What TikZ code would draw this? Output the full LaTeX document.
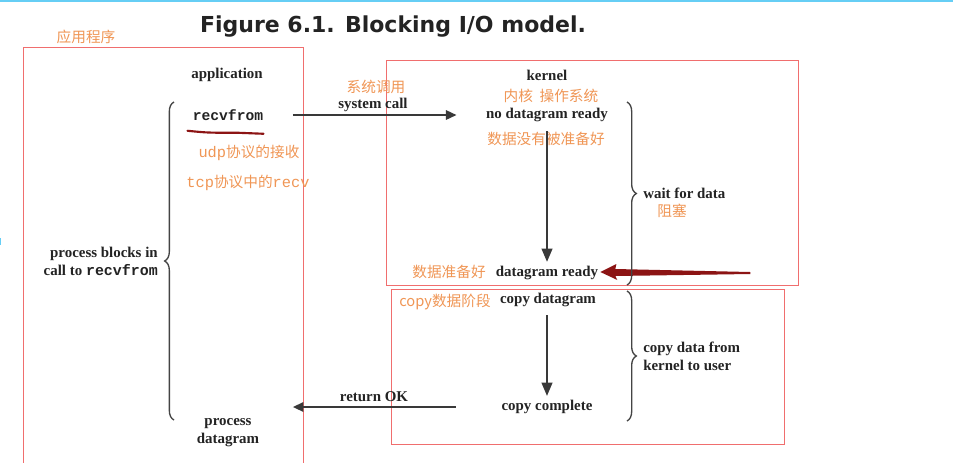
\documentclass[tikz,border=0pt]{standalone}
\usepackage{fontspec}
\setmainfont{Liberation Serif}
\setmonofont{Liberation Mono}
\newfontfamily\cjk{Noto Sans CJK SC}
\newfontfamily\titlefont{DejaVu Sans}
\usetikzlibrary{positioning,arrows.meta,calc,decorations.pathreplacing}

\definecolor{anno}{RGB}{240,150,85}
\definecolor{boxred}{RGB}{240,110,110}
\definecolor{brush}{RGB}{140,20,20}
\definecolor{ink}{RGB}{35,35,35}

\begin{document}
\begin{tikzpicture}[
  x=0.75pt, y=-0.75pt,
  txt/.style={inner sep=0pt, text=ink, font=\fontsize{11.2}{13.5}\selectfont\bfseries},
  cn/.style={inner sep=0pt, text=anno, font=\fontsize{11}{13}\selectfont\cjk},
  zone/.style={draw=boxred, line width=0.6pt},
  flow/.style={-{Triangle[length=8pt,width=7pt]}, line width=1.6pt, draw=ink!90},
  curly/.style={decorate, decoration={brace, amplitude=7pt}, line width=1pt, draw=ink!85}
]
\clip (0,0) rectangle (953,462);
\fill[white] (0,0) rectangle (953,462);
\draw[cyan!60, line width=1.5pt] (0,0.5) -- (953,0.5);
\draw[cyan!60, line width=1.5pt] (0,238) -- (0,245);

%% ===== title and zones =====
\node[inner sep=0pt, font=\fontsize{16.5}{19}\selectfont\titlefont\bfseries, text=ink] (title) at (393,27) {Figure 6.1. Blocking I/O model.};
\draw[zone] (23,47) rectangle (303,475);
\draw[zone] (386,60) rectangle (798,285);
\draw[zone] (391,289) rectangle (784,444);
\node[cn] (appcn) at (86,37) {应用程序};

%% ===== application side =====
\node[txt] (app) at (227,75) {application};
\node[txt, font=\fontsize{11}{13}\selectfont\ttfamily\bfseries] (recv) at (228,115) {recvfrom};
\node[cn] (udp) at (249,153) {{\ttfamily\fontsize{11.5}{13}\selectfont udp}协议的接收};
\node[cn] (tcp) at (248,183) {{\ttfamily\fontsize{11.5}{13}\selectfont tcp}协议中的{\ttfamily\fontsize{11.5}{13}\selectfont recv}};
\node[txt, align=right, anchor=east] (blocks) at (158,261) {process blocks in\\call to {\ttfamily recvfrom}};
\node[txt, align=center] (procdg) at (228,433) {process\\datagram};

\draw[brush, line width=1.6pt, line cap=round]
  ($(recv.south west)+(-5,10)$) .. controls ($(recv.south west)+(15,12)$) .. ($(recv.south)+(10,12)$)
  -- ($(recv.south east)+(0,13)$);

%% ===== kernel side =====
\node[txt] (kernel) at (547,75) {kernel};
\node[cn] (kcn) at (551,96) {内核\ \ 操作系统};
\node[txt] (nodg) at (547,115) {no datagram ready};
\node[cn] (nodgcn) at (546,139) {数据没有被准备好};
\node[txt] (dready) at (547,273) {datagram ready};
\node[cn] (dreadycn) at (449,272) {数据准备好};
\node[txt] (copydg) at (548,300) {copy datagram};
\node[cn] (copycn) at (445,302) {copy数据阶段};
\node[txt] (copyc) at (547,407) {copy complete};

\node[txt, anchor=west] (wait) at (643,193) {wait for data};
\node[cn] (zusai) at (672,211) {阻塞};
\node[txt, anchor=west, align=left] (copyinfo) at (643,356) {copy data from\\kernel to user};

%% ===== system call / return =====
\node[txt] (sysc) at (373,105) {system call};
\node[cn] (syscn) at (376,87) {系统调用};
\node[txt] (retok) at (374,397) {return OK};

\draw[flow, shorten <=22pt, shorten >=22pt] (recv.east) -- (recv.east -| nodg.west);
\draw[flow, -{Triangle[length=10pt,width=8pt]}, shorten <=7pt, shorten >=3pt] (nodg.south) -- (dready.north);
\draw[flow, -{Triangle[length=10pt,width=8pt]}, shorten <=6pt, shorten >=3pt] (copydg.south -| copyc.north) -- (copyc.north);
\draw[flow, shorten <=34pt, shorten >=22pt] (copyc.west) -- (copyc.west -| recv.east);

%% brush stroke pointing at datagram ready
\fill[brush] ($(dready.east)+(2,-1)$) -- ($(dready.east)+(18,-9)$) -- ($(dready.east)+(17,-4)$)
  -- ($(dready.east)+(152,-1)$) -- ($(dready.east)+(152,1)$) -- ($(dready.east)+(17,3)$)
  -- ($(dready.east)+(19,7)$) -- cycle;

%% ===== braces =====
\coordinate (lbtop) at (174,102);
\coordinate (lbbot) at (174,420);
\coordinate (wtop) at (627,102);
\coordinate (wbot) at (627,285);
\coordinate (ctop) at (627,291);
\coordinate (cbot) at (627,421);
\draw[curly] (lbbot) -- (lbtop);
\draw[curly] (wtop) -- (wbot);
\draw[curly] (ctop) -- (cbot);
\end{tikzpicture}
\end{document}
